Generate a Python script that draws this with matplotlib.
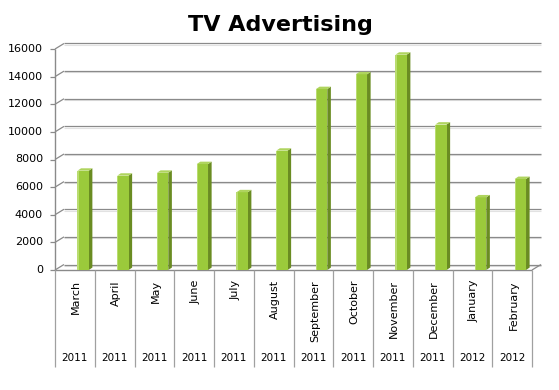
"""TV Advertising - Excel style 3D column chart, redrawn with matplotlib."""
import matplotlib
matplotlib.use("Agg")
import matplotlib.pyplot as plt
from matplotlib.patches import Polygon, Rectangle

months = ["March", "April", "May", "June", "July", "August", "September",
          "October", "November", "December", "January", "February"]
years = ["2011"] * 10 + ["2012"] * 2
spend = [7190, 6830, 7040, 7670, 5630, 8640, 13100, 14170, 15590, 10530, 5260, 6590]
yticks = list(range(0, 16001, 2000))

FRONT   = "#9BCA3B"
FRONT_L = "#B9DC70"
SIDE    = "#6A8C22"
TOP     = "#AFD45E"
GRID    = "#8A8A8A"
GRID_LT = "#E2E2E2"
SEP     = "#A0A0A0"

W, H = 559, 390
fig = plt.figure(figsize=(W / 100, H / 100), dpi=100, facecolor="white")

# front plane of the plot, in pixels
L, R, B, T = 55, 532, 270, 49
ax = fig.add_axes([L / W, 1 - B / H, (R - L) / W, (B - T) / H])
ax.set_xlim(0, len(months)); ax.set_ylim(0, 16000)
ax.set_axis_off()

# pixel -> data conversion
px = len(months) / (R - L)
py = 16000 / (B - T)
wdx, wdy = 9 * px, 5.5 * py     # depth of back wall
sdx, sdy = 3.6 * px, 2.4 * py   # depth of each column

kw = dict(clip_on=False, solid_capstyle="butt")

# back wall gridlines + left wall diagonals + ticks
for g in yticks:
    ax.plot([wdx, len(months) + wdx], [g + wdy - 1.3 * py] * 2, color=GRID_LT, lw=0.8, **kw)
    ax.plot([wdx, len(months) + wdx], [g + wdy] * 2, color=GRID, lw=0.9, **kw)
    ax.plot([0, wdx], [g, g + wdy], color=GRID, lw=0.9, **kw)
    ax.plot([-5 * px, 0], [g, g], color=GRID, lw=0.9, **kw)
    ax.text(-12 * px, g, f"{g}", ha="right", va="center", fontsize=8, color="black")

ax.plot([0, 0], [0, 16000], color=GRID, lw=1, **kw)
ax.plot([0, len(months)], [0, 0], color=GRID, lw=1, **kw)
ax.plot([len(months), len(months) + wdx], [0, wdy], color=GRID, lw=0.9, **kw)

# columns
fw = 11.3 * px
for i, v in enumerate(spend):
    x0 = i + 0.5 + 2.6 * px
    x1 = x0 + fw
    ax.add_patch(Polygon([(x1, 0), (x1 + sdx, sdy), (x1 + sdx, v + sdy), (x1, v)],
                         closed=True, facecolor=SIDE, edgecolor="none", clip_on=False, zorder=3))
    ax.add_patch(Rectangle((x0, 0), fw, v, facecolor=FRONT, edgecolor="none",
                           clip_on=False, zorder=3))
    ax.add_patch(Rectangle((x0, 0), 1.2 * px, v, facecolor=FRONT_L, edgecolor="none",
                           clip_on=False, zorder=3))
    ax.add_patch(Polygon([(x0, v), (x1, v), (x1 + sdx, v + sdy), (x0 + sdx, v + sdy)],
                         closed=True, facecolor=TOP, edgecolor="none", clip_on=False, zorder=3))

# category axis: separators, month and year labels
for k in range(len(months) + 1):
    ax.plot([k, k], [0, -97 * py], color=SEP, lw=0.9, **kw)
for i, (m, yr) in enumerate(zip(months, years)):
    ax.text(i + 0.5 + 1.5 * px, -10 * py, m, rotation=90, ha="center", va="top",
            fontsize=8, color="black")
    ax.text(i + 0.5, -88 * py, yr, ha="center", va="center", fontsize=7.5, color="black")

fig.text(280 / W, 1 - 31 / H, "TV Advertising", ha="center", va="baseline",
         fontsize=16, fontweight="bold", color="black")

fig.savefig("out.png", dpi=100, facecolor="white")
